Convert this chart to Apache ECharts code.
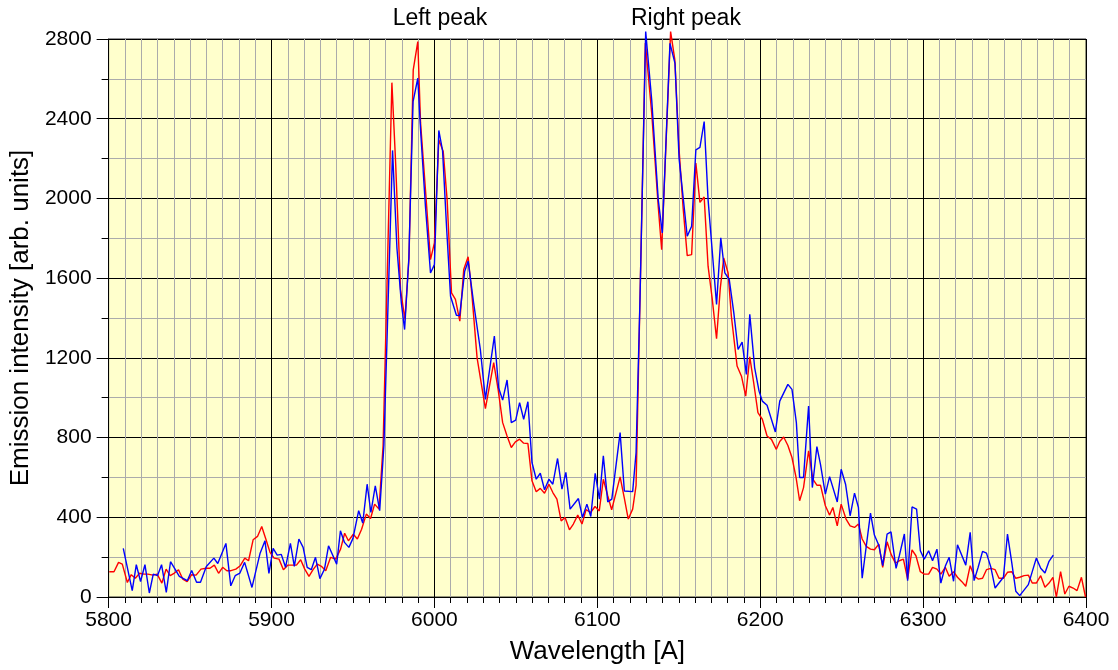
<!DOCTYPE html>
<html>
<head>
<meta charset="utf-8">
<script src="https://cdn.jsdelivr.net/npm/echarts@6/dist/echarts.min.js"></script>
<style>
html,body{margin:0;padding:0;background:#fff;}
#chart{width:1118px;height:670px;}
</style>
</head>
<body>
<div id="chart"></div>
<script>
// Red spectrum: wavelength [A] and intensity
const redWavelength = [5800.4,5803.3,5806.1,5808.4,5811.5,5813.9,5816.4,5819,5821.7,5824.1,5827.2,5829.8,5832.7,5835.3,5837.8,5840.4,5842.9,5845.5,5848.2,5851,5853.7,5856.7,5859.8,5862.2,5864.9,5867.5,5870,5872.6,5875.1,5878.1,5880.8,5883.6,5885.9,5888.7,5891.4,5894,5896.5,5899.1,5901.6,5904.6,5907.3,5910.1,5912.8,5915.3,5917.9,5920.4,5923,5925.5,5928.1,5930.6,5933.3,5936.3,5939.4,5942.4,5944.9,5947.2,5950.2,5952.7,5955.3,5958.2,5960.8,5963.3,5966,5968.5,5973.9,5976.2,5979.2,5981.9,5984.4,5987,5989.8,5991.5,5994.5,5997.6,6000,6002.7,6005.4,6007.8,6010.5,6012.9,6015.6,6018,6020.7,6023,6026.2,6031.3,6036.4,6039.1,6041.9,6044.6,6047.2,6049.7,6052.3,6054.8,6057.4,6059.9,6062.5,6065,6067.6,6070.3,6072.7,6075.2,6077.8,6080.2,6082.9,6085.3,6088,6090.6,6093.1,6095.9,6098.6,6101.2,6103.7,6106.4,6108.8,6111.4,6114,6116.5,6119,6121.7,6123.8,6129.5,6133.4,6135.4,6137.4,6139.5,6145,6147.6,6150.2,6152.7,6155.2,6157.9,6160.5,6163,6165.6,6168,6170.5,6173.2,6175.5,6177.6,6180.3,6182.3,6185.8,6188.5,6191.1,6193.6,6196,6198.6,6201.3,6204.2,6206.9,6209.9,6212,6214.4,6217,6219.5,6222,6224.2,6226.6,6229.7,6232.3,6234.8,6237,6240,6242.6,6244.6,6247.3,6249.7,6252.7,6255.2,6257.9,6260.3,6262.6,6265.1,6267.7,6270.1,6272.8,6275.2,6277.9,6280.3,6283,6285.4,6287.9,6290.5,6293.2,6295.6,6298.3,6300.7,6303.4,6305.8,6308.5,6310.9,6313.6,6316,6318.7,6321.1,6323.8,6326.2,6328.9,6331.3,6333.8,6336.5,6338.9,6341.6,6344.2,6346.6,6349.3,6351.8,6354.4,6356.9,6359.3,6362,6364.6,6367,6369.5,6372.2,6374.8,6377.3,6379.7,6381.8,6384.4,6387,6389.5,6392.1,6394.5,6397.2,6399.7];
const redIntensity = [127,127,174,165,73,112,94,119,115,115,110,115,70,140,107,120,137,90,77,112,110,140,144,144,160,119,149,132,132,140,157,195,182,287,304,354,291,224,195,190,137,160,160,160,187,140,104,137,165,154,132,199,190,240,320,282,315,291,340,416,394,466,441,760,2581,2177,1543,1393,1700,2645,2787,2379,2044,1693,1777,2294,2236,1994,1526,1493,1384,1643,1707,1520,1200,945,1176,1042,875,808,750,778,792,772,770,583,528,545,521,566,524,491,382,399,337,366,411,366,438,424,454,432,591,508,438,520,603,500,391,441,560,2780,2428,2194,1960,1743,2837,2695,2244,1950,1713,1718,2177,1980,2007,1660,1500,1296,1550,1701,1626,1409,1159,1108,1008,1205,1075,925,892,808,791,741,780,803,760,700,600,483,549,733,591,561,561,458,411,449,357,466,391,357,349,366,291,254,240,237,265,149,277,215,170,182,190,90,237,207,127,115,115,149,140,115,149,104,127,99,77,54,157,107,90,94,137,144,137,94,94,124,127,94,99,107,110,70,70,107,49,70,99,0,127,15,54,45,32,99,0];

// Blue spectrum: wavelength [A] and intensity
const blueWavelength = [5809,5814.5,5817,5819.6,5822.3,5825,5827.4,5830,5832.5,5835.4,5838,5840.5,5843.4,5848.3,5851,5854,5856.4,5860,5864.6,5867,5872,5875,5877.7,5880.6,5883.5,5888,5893,5896,5898.4,5901,5903.5,5906,5908.6,5911.6,5914,5916.8,5919.4,5921.9,5924.4,5927,5929.7,5932.5,5935,5940,5942.3,5944.8,5947.5,5950,5953.5,5956,5958.7,5961,5963.7,5966.4,5969,5974.3,5977,5979.7,5981.7,5984.3,5986.9,5989.8,5991.5,5994.5,5997.6,6000,6002.7,6005,6007.5,6009.9,6013.5,6015.5,6018.6,6020.7,6024,6028.2,6031.3,6036.8,6039.4,6041.9,6044.6,6047.2,6049.9,6052.3,6054.8,6057.4,6059.9,6062.5,6065,6067.6,6070.3,6072.7,6075.6,6078.3,6080.7,6083.3,6088.4,6090.9,6093.6,6096,6098.7,6101.3,6103.7,6106.4,6108.9,6114,6116.6,6121.7,6123.8,6126.2,6129.7,6133.4,6137.4,6139.9,6144.6,6147.7,6150.2,6155.2,6157.9,6160.5,6163,6165.6,6168,6173.2,6175.8,6178.3,6181,6183.8,6186.4,6188.9,6191.5,6193.6,6196.6,6199.3,6201.3,6204.2,6209.3,6212,6217,6219.5,6222.2,6224.2,6226.6,6229.7,6232,6234.8,6237,6240,6242.6,6247.3,6249.7,6252.4,6255.2,6257.9,6260.3,6262.6,6267.7,6270.1,6272.8,6275.2,6277.9,6280.3,6283.4,6285.4,6288.5,6290.5,6293.2,6296,6298.3,6300.7,6303.4,6305.8,6308.5,6310.9,6313.6,6316,6318.7,6321.1,6326.2,6328.9,6331.3,6333.8,6336.5,6338.9,6341.6,6344.2,6349.3,6351.8,6354.4,6356.9,6359.3,6364.6,6369.5,6372.2,6374.8,6377.3,6379.9];
const blueIntensity = [244,32,162,78,162,20,115,107,162,23,177,144,104,82,133,74,74,153,195,168,269,56,107,120,174,48,220,282,118,244,210,214,149,269,154,291,249,149,137,199,92,139,257,165,332,274,249,294,433,371,566,424,558,433,760,2241,1750,1476,1342,1700,2486,2603,2344,1960,1626,1668,2341,2240,1850,1509,1414,1412,1635,1685,1480,1242,992,1309,1050,988,1089,875,888,975,892,980,675,591,621,538,591,566,695,541,625,441,494,399,466,404,621,491,708,477,491,825,532,529,725,1493,2837,2494,1994,1827,2778,2678,2200,1810,1860,2244,2256,2386,1994,1468,1802,1626,1593,1426,1242,1279,1117,1418,1150,1033,983,962,828,983,1067,1042,875,600,600,958,549,755,666,516,604,477,641,566,407,521,449,94,421,311,260,157,316,327,144,207,316,82,452,441,232,190,232,182,240,70,154,199,79,262,160,324,82,149,229,220,149,45,99,316,174,29,7,62,195,144,120,179,210];

// Peak annotations
const peakNames = ['Left peak', 'Right peak'];
const peakWavelengths = [6003.4, 6154.4];
const peakLevel = 2800;

// Axis ranges / ticks
const xMin = 5800, xMax = 6400, xStep = 100;
const yMin = 0, yMax = 2800, yStep = 400;

const FONT = '"Liberation Sans", Arial, sans-serif';
const zip = (xs, ys) => xs.map((x, i) => [x, ys[i]]);

const chart = echarts.init(document.getElementById('chart'), null, {renderer: 'canvas'});
chart.setOption({
  animation: false,
  backgroundColor: '#ffffff',
  textStyle: {fontFamily: FONT},
  grid: {
    left: 108, right: 32, top: 39, bottom: 72,
    show: true, backgroundColor: '#FFFFCC', borderColor: '#303030', borderWidth: 1
  },
  xAxis: {
    type: 'value', min: xMin, max: xMax, interval: xStep,
    name: 'Wavelength [A]', nameLocation: 'middle', nameGap: 42,
    nameTextStyle: {fontSize: 26, color: '#000', fontFamily: FONT},
    axisLine: {show: true, onZero: false, lineStyle: {color: '#000', width: 1}},
    axisTick: {show: true, length: 11, lineStyle: {color: '#000', width: 1}},
    minorTick: {show: true, splitNumber: 10, length: 6, lineStyle: {color: '#000', width: 1}},
    axisLabel: {fontSize: 21, color: '#000', margin: 13, fontFamily: FONT, formatter: v => String(v)},
    splitLine: {show: true, lineStyle: {color: '#000', width: 1}},
    minorSplitLine: {show: true, lineStyle: {color: '#ababab', width: 1}}
  },
  yAxis: {
    type: 'value', min: yMin, max: yMax, interval: yStep,
    name: 'Emission intensity [arb. units]', nameLocation: 'middle', nameGap: 73,
    nameTextStyle: {fontSize: 26, color: '#000', fontFamily: FONT},
    axisLine: {show: true, onZero: false, lineStyle: {color: '#000', width: 1}},
    axisTick: {show: true, length: 12, lineStyle: {color: '#000', width: 1}},
    minorTick: {show: true, splitNumber: 2, length: 7, lineStyle: {color: '#000', width: 1}},
    axisLabel: {fontSize: 21, color: '#000', margin: 17, fontFamily: FONT, formatter: v => String(v)},
    splitLine: {show: true, lineStyle: {color: '#000', width: 1}},
    minorSplitLine: {show: true, lineStyle: {color: '#ababab', width: 1}}
  },
  series: [
    {
      name: 'red', type: 'line', data: zip(redWavelength, redIntensity),
      showSymbol: false, clip: false, z: 3,
      lineStyle: {color: '#ff0000', width: 1.4}
    },
    {
      name: 'blue', type: 'line', data: zip(blueWavelength, blueIntensity),
      showSymbol: false, clip: false, z: 4,
      lineStyle: {color: '#0000ff', width: 1.4}
    },
    {
      name: 'peaks', type: 'scatter', silent: true, symbolSize: 0, clip: false, z: 5,
      itemStyle: {opacity: 1},
      data: peakWavelengths.map((w, i) => ({name: peakNames[i], value: [w, peakLevel]})),
      label: {show: true, position: 'top', distance: 9, formatter: p => p.name,
              fontSize: 23, color: '#000', opacity: 1, fontFamily: FONT}
    }
  ]
});
</script>
</body>
</html>
